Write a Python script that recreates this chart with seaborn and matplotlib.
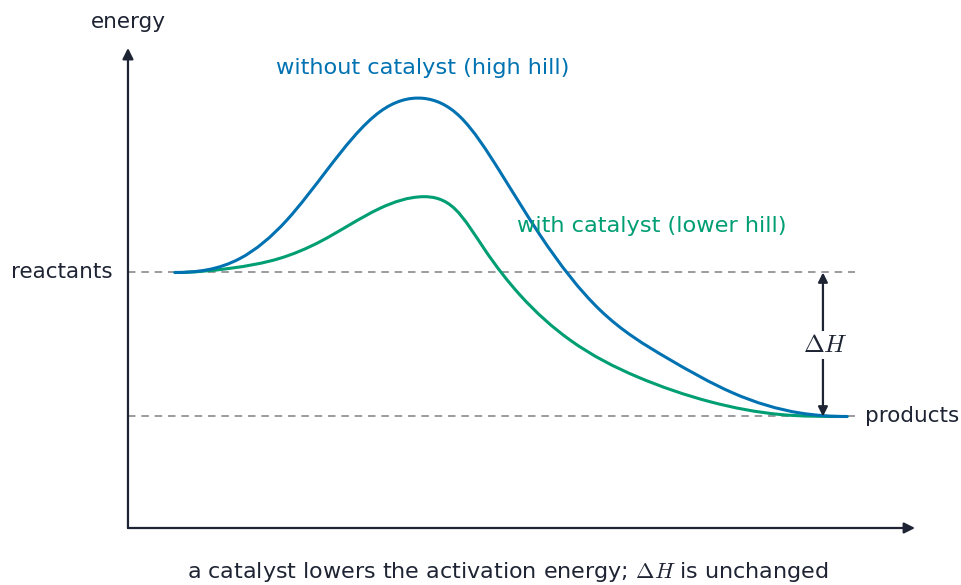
import numpy as np
import pandas as pd
import seaborn as sns
import matplotlib.pyplot as plt
from matplotlib.path import Path
from matplotlib.patches import PathPatch

# values (reaction coordinate 0-10, energy 0-10)
x_uncat = [0.597, 1.423, 2.020, 2.529, 3.202, 3.748, 4.219, 4.727, 5.235, 5.997,
           6.849, 7.687, 8.539, 9.136]
e_uncat = [5.323, 5.615, 6.417, 7.458, 8.673, 8.952, 8.569, 7.423, 6.104, 4.542,
           3.542, 2.813, 2.396, 2.323]
x_cat = [0.597, 1.296, 1.931, 2.440, 3.202, 3.748, 4.155, 4.536, 4.981, 5.616,
         6.468, 7.395, 8.285, 9.136]
e_cat = [5.323, 5.410, 5.619, 5.965, 6.660, 6.902, 6.646, 5.792, 4.854, 3.917,
         3.152, 2.631, 2.365, 2.323]
e_reactants = 5.323
e_products = 2.323

curves = pd.concat([
    pd.DataFrame({"x": x_uncat, "energy": e_uncat, "curve": "without"}),
    pd.DataFrame({"x": x_cat, "energy": e_cat, "curve": "with"}),
])
levels = pd.DataFrame({"x": [0, 9.24, 0, 9.24],
                       "energy": [e_reactants, e_reactants, e_products, e_products],
                       "level": ["reactants", "reactants", "products", "products"]})

sns.set_theme(style="white")
plt.rcParams["font.family"] = ["DejaVu Sans"]
plt.rcParams["mathtext.fontset"] = "cm"

blue = "#0072B2"
green = "#009E73"
ink = "#1e2433"
colors = {"without": blue, "with": green}


def smooth_path(xs, ys):
    # clamped cubic spline through the read points, drawn as bezier segments
    xs = np.asarray(xs, float)
    ys = np.asarray(ys, float)
    n = len(xs)
    h = np.diff(xs)
    d = np.diff(ys) / h
    A = np.zeros((n, n))
    b = np.zeros(n)
    A[0, 0] = A[-1, -1] = 1.0
    for i in range(1, n - 1):
        A[i, i - 1] = h[i]
        A[i, i] = 2 * (h[i - 1] + h[i])
        A[i, i + 1] = h[i - 1]
        b[i] = 3 * (h[i] * d[i - 1] + h[i - 1] * d[i])
    m = np.linalg.solve(A, b)
    verts = [(xs[0], ys[0])]
    codes = [Path.MOVETO]
    for i in range(n - 1):
        dx = h[i] / 3
        verts += [(xs[i] + dx, ys[i] + m[i] * dx),
                  (xs[i + 1] - dx, ys[i + 1] - m[i + 1] * dx),
                  (xs[i + 1], ys[i + 1])]
        codes += [Path.CURVE4] * 3
    return Path(verts, codes)


fig = plt.figure(figsize=(9.61, 5.85), dpi=100)
ax = fig.add_axes([0, 0, 1, 1])
ax.set_xlim(-1.626, 10.584)
ax.set_ylim(-1.1875, 11.0)
ax.axis("off")

# dashed reference levels
sns.lineplot(data=levels, x="x", y="energy", units="level", estimator=None,
             color="#8a8a8f", lw=1.2, ax=ax, zorder=1)
for ln in ax.lines:
    ln.set_dashes((4.5, 3.5))

for name, grp in curves.groupby("curve"):
    ax.add_patch(PathPatch(smooth_path(grp["x"].values, grp["energy"].values),
                           fill=False, edgecolor=colors[name], lw=2.2,
                           capstyle="round", zorder=3))

# axes with arrows
for tip in [(10.0, 0), (0, 10.0)]:
    ax.annotate("", xy=tip, xytext=(0, 0),
                arrowprops=dict(arrowstyle="-|>", color=ink, lw=1.6, mutation_scale=16,
                                shrinkA=0, shrinkB=0))

# delta H double arrow
ax.annotate("", xy=(8.83, e_reactants), xytext=(8.83, e_products),
            arrowprops=dict(arrowstyle="<|-|>", color=ink, lw=1.6, mutation_scale=14,
                            shrinkA=0, shrinkB=0), zorder=4)
ax.text(8.86, 3.81, r"$\Delta H$", fontsize=18, color=ink, ha="center", va="center",
        zorder=5, bbox=dict(facecolor="white", edgecolor="none", pad=1.5))

fs = 15.5
ax.text(0, 10.55, "energy", fontsize=fs, color=ink, ha="center", va="center")
ax.text(-0.2, e_reactants, "reactants", fontsize=fs, color=ink, ha="right", va="center")
ax.text(9.37, e_products, "products", fontsize=fs, color=ink, ha="left", va="center")
ax.text(3.75, 9.58, "without catalyst (high hill)", fontsize=16.2, color=blue,
        ha="center", va="center")
ax.text(6.65, 6.29, "with catalyst (lower hill)", fontsize=16.2, color=green,
        ha="center", va="center")
ax.text(4.82, -0.92, r"a catalyst lowers the activation energy; $\Delta H$ is unchanged",
        fontsize=16, color=ink, ha="center", va="center")

fig.savefig("out.png", dpi=100)
